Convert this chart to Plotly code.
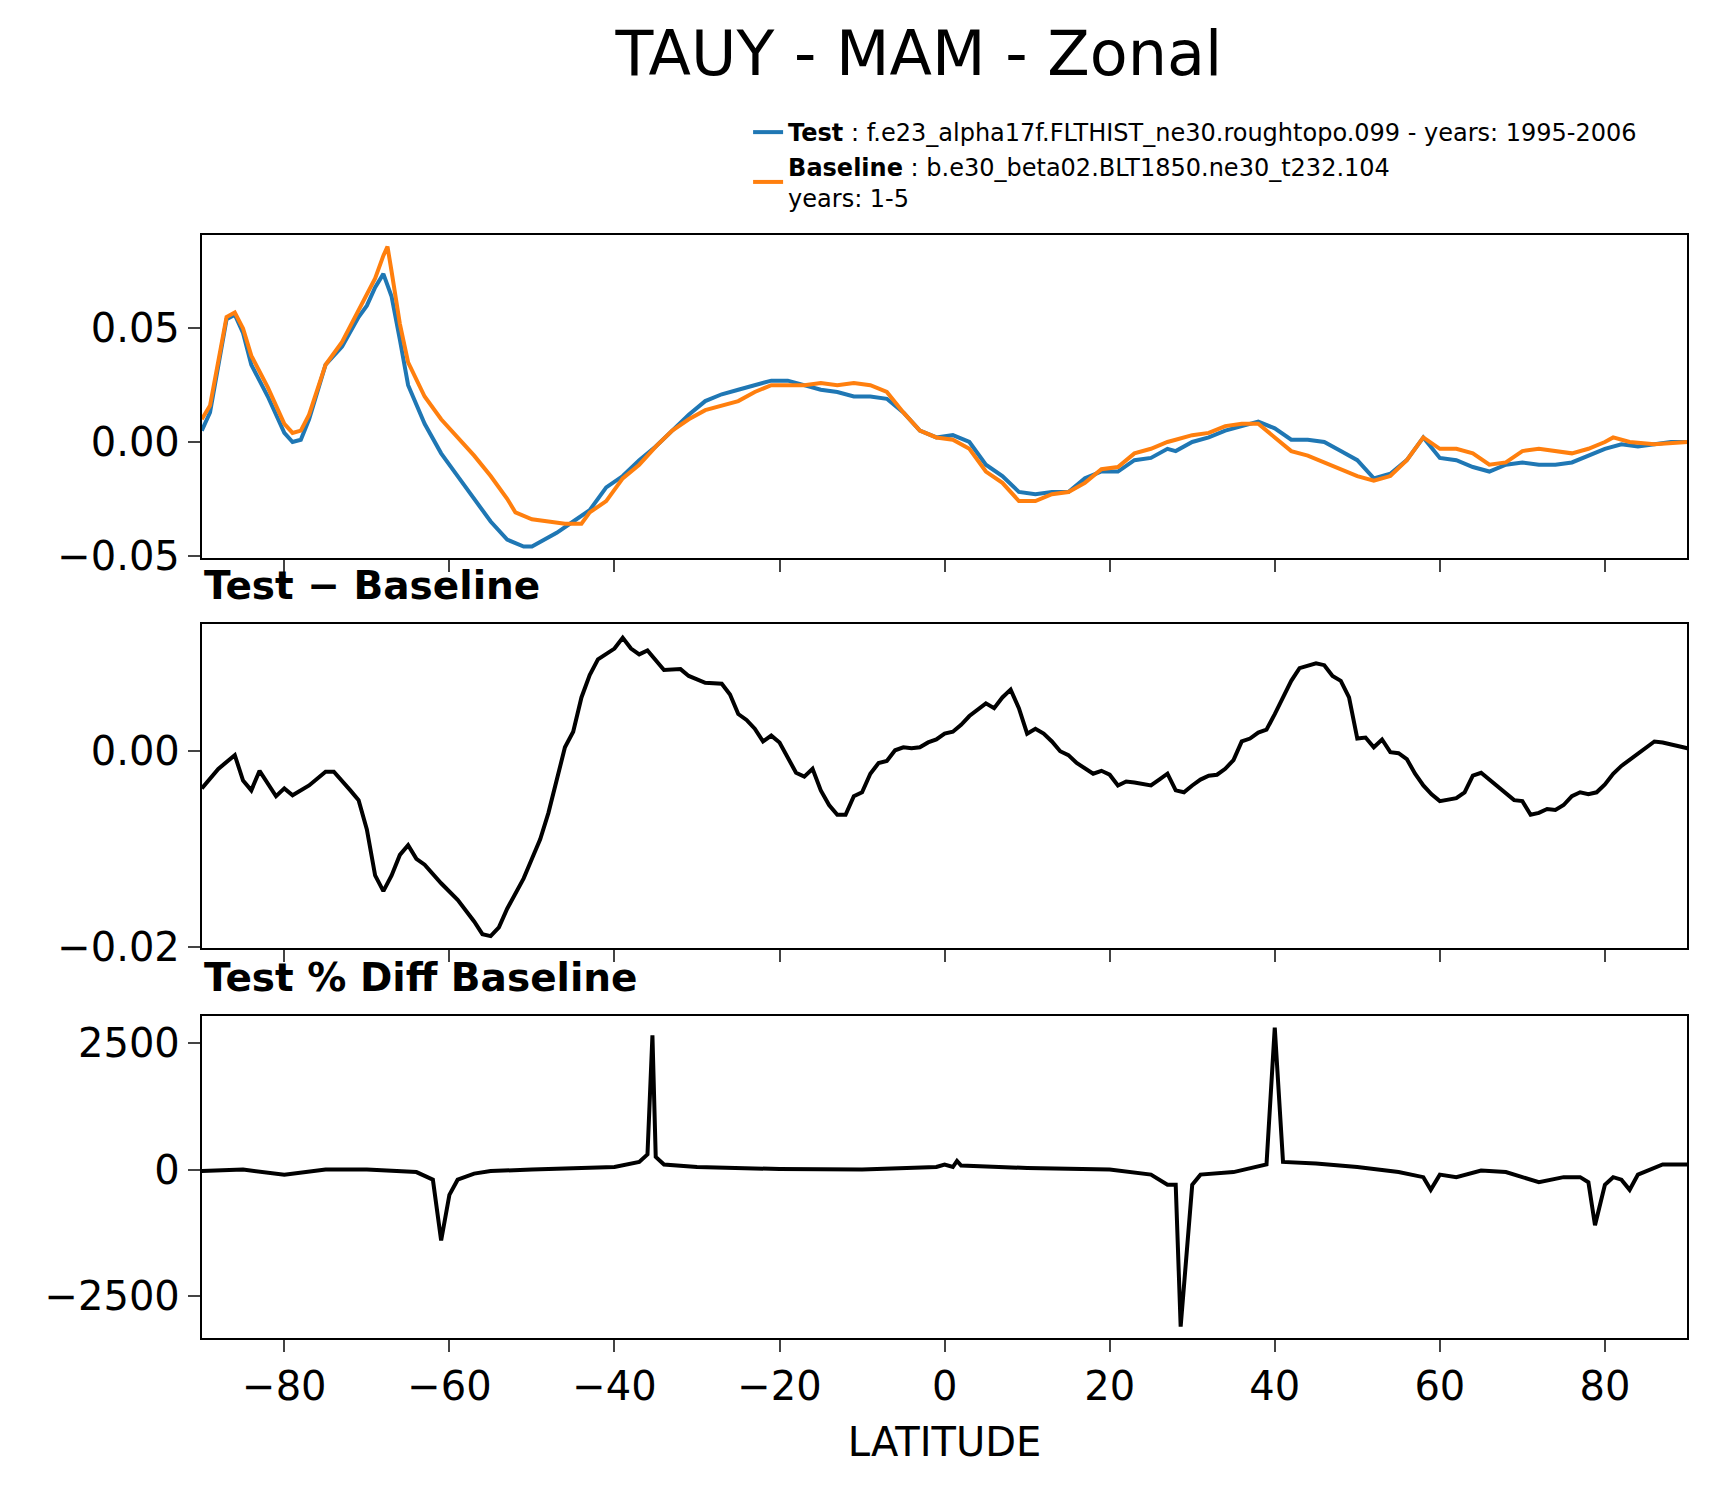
import plotly.graph_objects as go

lat_t = [-90,-89,-87,-86,-85,-84,-82,-80,-79,-78,-77,-75,-73,-71,-70,-69,-68,-67,-66,-65,-63,-61,-59,-57,-55,-53,-51,-50,-49,-47,-45,-43,-41,-39,-37,-35,-33,-31,-29,-27,-25,-23,-21,-19,-17,-15,-13,-11,-9,-7,-5,-3,-1,1,3,5,7,9,11,13,15,17,19,21,23,25,27,28,30,32,34,36,38,40,42,44,46,48,50,52,54,56,58,60,62,64,66,68,70,72,74,76,78,80,82,84,86,88,90]
test = [0.005,0.013,0.054,0.056,0.048,0.034,0.020,0.004,0.000,0.001,0.010,0.034,0.042,0.055,0.060,0.068,0.074,0.064,0.045,0.025,0.008,-0.005,-0.015,-0.025,-0.035,-0.043,-0.046,-0.046,-0.044,-0.040,-0.035,-0.030,-0.020,-0.015,-0.008,-0.002,0.005,0.012,0.018,0.021,0.023,0.025,0.027,0.027,0.025,0.023,0.022,0.020,0.020,0.019,0.013,0.005,0.002,0.003,0.000,-0.010,-0.015,-0.022,-0.023,-0.022,-0.022,-0.016,-0.013,-0.013,-0.008,-0.007,-0.003,-0.004,0.000,0.002,0.005,0.007,0.009,0.006,0.001,0.001,0.000,-0.004,-0.008,-0.016,-0.014,-0.008,0.002,-0.007,-0.008,-0.011,-0.013,-0.010,-0.009,-0.010,-0.010,-0.009,-0.006,-0.003,-0.001,-0.002,-0.001,0.000,0.000]

lat_b = [-90,-89,-87,-86,-85,-84,-82,-80,-79,-78,-77,-75,-73,-71,-70,-69,-68,-67.5,-67,-66,-65,-63,-61,-59,-57,-55,-53,-52,-50,-48,-46,-44,-43,-41,-39,-37,-35,-33,-31,-29,-27,-25,-23,-21,-19,-17,-15,-13,-11,-9,-7,-5,-3,-1,1,3,5,7,9,11,13,15,17,19,21,23,25,27,28,30,32,34,36,38,40,42,44,46,48,50,52,54,56,58,60,62,64,66,68,70,72,74,76,78,80,81,83,86,90]
base = [0.010,0.016,0.055,0.057,0.050,0.038,0.024,0.008,0.004,0.005,0.012,0.034,0.044,0.058,0.065,0.072,0.082,0.086,0.075,0.052,0.035,0.020,0.010,0.002,-0.006,-0.015,-0.025,-0.031,-0.034,-0.035,-0.036,-0.036,-0.031,-0.026,-0.016,-0.010,-0.002,0.005,0.010,0.014,0.016,0.018,0.022,0.025,0.025,0.025,0.026,0.025,0.026,0.025,0.022,0.013,0.005,0.002,0.001,-0.003,-0.013,-0.018,-0.026,-0.026,-0.023,-0.022,-0.018,-0.012,-0.011,-0.005,-0.003,0.000,0.001,0.003,0.004,0.007,0.008,0.008,0.002,-0.004,-0.006,-0.009,-0.012,-0.015,-0.017,-0.015,-0.008,0.002,-0.003,-0.003,-0.005,-0.010,-0.009,-0.004,-0.003,-0.004,-0.005,-0.003,0.000,0.002,0.000,-0.001,0.000]

lat_d = [-90,-88,-86,-85,-84,-83,-81,-80,-79,-77,-75,-74,-72,-71,-70,-69,-68,-67,-66,-65,-64,-63,-61,-59,-57,-56,-55,-54,-53,-51,-50,-49,-48,-47,-46,-45,-44,-43,-42,-40,-39,-38,-37,-36,-34,-32,-31,-29,-27,-26,-25,-24,-23,-22,-21,-20,-19,-18,-17,-16,-15,-14,-13,-12,-11,-10,-9,-8,-7,-6,-5,-4,-3,-2,-1,0,1,2,3,4,5,6,7,8,9,10,11,12,13,14,15,16,17,18,19,20,21,22,23,24,25,26,27,28,29,30,31,32,33,34,35,36,37,38,39,40,41,42,43,44,45,46,47,48,49,50,51,52,53,54,55,56,57,58,59,60,61,62,63,64,65,66,67,68,69,70,71,72,73,74,75,76,77,78,79,80,81,82,83,84,85,86,87,88,90]
diff = [-0.0038,-0.0018,-0.0004,-0.003,-0.004,-0.002,-0.0046,-0.0038,-0.0045,-0.0035,-0.0021,-0.0021,-0.004,-0.005,-0.008,-0.0127,-0.0143,-0.0127,-0.0106,-0.0096,-0.011,-0.0116,-0.0135,-0.0152,-0.0174,-0.0187,-0.0189,-0.018,-0.0161,-0.013,-0.011,-0.009,-0.0063,-0.0031,0.0004,0.002,0.0055,0.0078,0.0094,0.0105,0.0116,0.0105,0.0099,0.0103,0.0083,0.0084,0.0077,0.0070,0.0069,0.0058,0.0038,0.0032,0.0023,0.001,0.0016,0.0009,-0.0007,-0.0022,-0.0026,-0.0018,-0.004,-0.0055,-0.0065,-0.0065,-0.0046,-0.0042,-0.0023,-0.0012,-0.001,0.0001,0.0004,0.0003,0.0004,0.0009,0.0012,0.0018,0.002,0.0027,0.0036,0.0042,0.0049,0.0044,0.0055,0.0063,0.0044,0.0018,0.0023,0.0018,0.001,0.0,-0.0004,-0.0012,-0.0018,-0.0023,-0.002,-0.0024,-0.0035,-0.0031,-0.0032,-0.0033,-0.0035,-0.0029,-0.0023,-0.004,-0.0042,-0.0035,-0.0029,-0.0025,-0.0024,-0.0018,-0.0009,0.001,0.0013,0.0019,0.0022,0.0038,0.0055,0.0072,0.0085,0.0088,0.009,0.0088,0.0077,0.0072,0.0055,0.0013,0.0014,0.0004,0.0012,-0.0001,-0.0002,-0.0008,-0.0023,-0.0035,-0.0044,-0.0051,-0.0049,-0.0048,-0.0042,-0.0025,-0.0022,-0.0029,-0.0036,-0.0042,-0.005,-0.0051,-0.0065,-0.0063,-0.0059,-0.006,-0.0055,-0.0046,-0.0042,-0.0044,-0.0042,-0.0034,-0.0023,-0.0015,-0.0009,-0.0003,0.0004,0.001,0.0009,0.0007,0.0003]

lat_p = [-90,-85,-80,-75,-70,-66,-64,-62,-61,-60,-59,-57,-55,-50,-45,-40,-37,-36,-35.4,-35,-34,-30,-20,-10,-1,0,1,1.5,2,10,20,25,27,28,28.6,30,31,35,39,40,41,45,50,55,58,58.9,60,62,65,68,70,72,75,77,78,78.8,80,81,82,83,84,87,90]
pdiff = [-30,0,-100,0,0,-30,-50,-200,-1400,-500,-200,-80,-30,0,20,50,150,300,2650,250,100,50,10,0,50,100,50,170,80,30,0,-100,-300,-300,-3100,-300,-100,-50,100,2800,150,120,50,-50,-150,-400,-100,-150,-20,-50,-150,-250,-150,-150,-250,-1100,-300,-150,-200,-400,-100,100,100]

W, H = 1718, 1496
def px(d):   # reference-view x -> page px
    return (d - 6) / 0.9134
def py(d):   # reference-view y -> page px
    return (d - 3.6) / 0.9155
X0, X1 = px(183)/W, px(1540)/W
def yd(top, bot):
    return [1 - py(bot)/H, 1 - py(top)/H]

LW = 4
fig = go.Figure()
fig.add_trace(go.Scatter(x=lat_t, y=test, mode="lines", line=dict(color="#1f77b4", width=LW),
    name="<b>Test</b> : f.e23_alpha17f.FLTHIST_ne30.roughtopo.099 - years: 1995-2006", xaxis="x", yaxis="y"))
fig.add_trace(go.Scatter(x=lat_b, y=base, mode="lines", line=dict(color="#ff7f0e", width=LW),
    name="<b>Baseline</b> : b.e30_beta02.BLT1850.ne30_t232.104<br>years: 1-5", xaxis="x", yaxis="y"))
fig.add_trace(go.Scatter(x=lat_d, y=diff, mode="lines", line=dict(color="black", width=LW),
    showlegend=False, xaxis="x2", yaxis="y2"))
fig.add_trace(go.Scatter(x=lat_p, y=pdiff, mode="lines", line=dict(color="black", width=LW),
    showlegend=False, xaxis="x3", yaxis="y3"))

font = "DejaVu Sans"
ax = dict(showline=True, linecolor="black", linewidth=2, mirror=True, ticks="outside",
          ticklen=12, tickwidth=2, showgrid=False, zeroline=False, tickfont=dict(size=40, family=font))
xt = dict(range=[-90, 90], tickvals=[-80,-60,-40,-20,0,20,40,60,80], domain=[X0, X1])
fig.update_layout(
    width=W, height=H, margin=dict(l=0, r=0, t=0, b=0, autoexpand=False),
    plot_bgcolor="white", paper_bgcolor="white",
    font=dict(family=font, color="black"),
    title=dict(text="TAUY - MAM - Zonal", x=px(838)/W, xanchor="center", y=1-py(45)/H, yanchor="middle",
               font=dict(size=62, family=font)),
    legend=dict(x=px(682)/W, y=1-py(97)/H, xanchor="left", yanchor="top", font=dict(size=24, family=font),
                bgcolor="rgba(0,0,0,0)", tracegroupgap=16),
    xaxis=dict(**ax, **xt, showticklabels=False, anchor="y"),
    yaxis=dict(**ax, domain=yd(211, 507), range=[-0.051, 0.0913], tickvals=[-0.05, 0, 0.05], tickformat=".2f", anchor="x"),
    xaxis2=dict(**ax, **xt, showticklabels=False, anchor="y2"),
    yaxis2=dict(**ax, domain=yd(568, 864), range=[-0.0201, 0.01296], tickvals=[-0.02, 0], tickformat=".2f", anchor="x2"),
    xaxis3=dict(**ax, **xt, anchor="y3", title=dict(text="LATITUDE", font=dict(size=40, family=font), standoff=20)),
    yaxis3=dict(**ax, domain=yd(926, 1221), range=[-3319, 3039], tickvals=[-2500, 0, 2500], tickformat="d", anchor="x3"),
)
fig.add_annotation(text="<b>Test − Baseline</b>", xref="paper", yref="paper", x=X0, y=yd(568, 864)[1] + 14/H,
                   xanchor="left", yanchor="bottom", showarrow=False, font=dict(size=39, family=font))
fig.add_annotation(text="<b>Test % Diff Baseline</b>", xref="paper", yref="paper", x=X0, y=yd(926, 1221)[1] + 14/H,
                   xanchor="left", yanchor="bottom", showarrow=False, font=dict(size=39, family=font))
fig.write_html("out.html")
